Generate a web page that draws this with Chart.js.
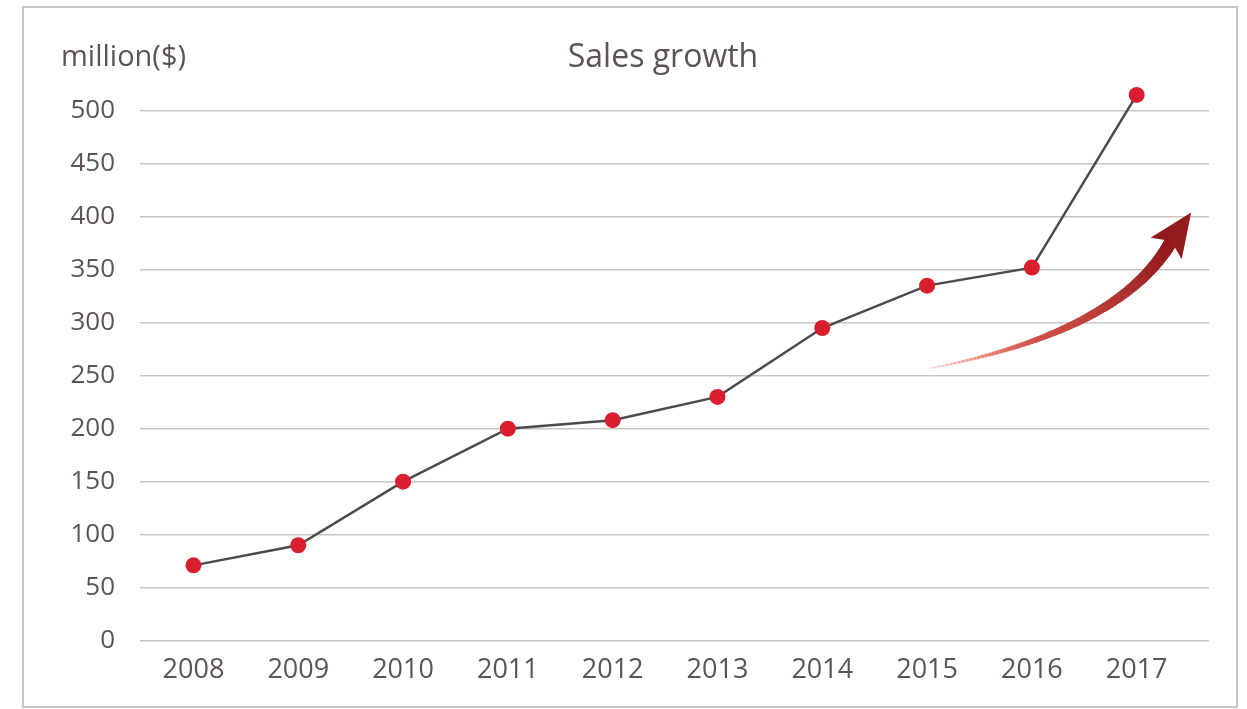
<!DOCTYPE html>
<html>
<head>
<meta charset="utf-8">
<title>Sales growth</title>
<script src="https://cdn.jsdelivr.net/npm/chart.js@4.4.1/dist/chart.umd.min.js"></script>
<style>
  body { margin: 0; background: #fff; }
  .frame {
    position: absolute; left: 22px; top: 6px; width: 1216px; height: 702px;
    border: 2px solid #cbc6c3; box-sizing: border-box;
  }
  .wrap { position: absolute; left: 0; top: 0; width: 1247px; height: 709px; }
</style>
</head>
<body>
<div class="frame"></div>
<div class="wrap"><canvas id="salesChart"></canvas></div>
<script>
// gegevens
const years = ['2008', '2009', '2010', '2011', '2012', '2013', '2014', '2015', '2016', '2017'];
const sales = [71, 90, 150, 200, 208, 230, 295, 335, 352, 515];
const yTicks = [0, 50, 100, 150, 200, 250, 300, 350, 400, 450, 500];

const textColor = '#5c5454';
const fontName = '"Open Sans", "DejaVu Sans", sans-serif';

// titel en eenheid boven de grafiek
const headerPlugin = {
    id: 'header',
    afterDraw(chart) {
        const c = chart.ctx;
        const area = chart.chartArea;
        const top = chart.scales.y.getPixelForValue(500);
        c.save();
        c.fillStyle = textColor;
        c.textBaseline = 'middle';
        c.font = '32px ' + fontName;
        c.textAlign = 'center';
        c.fillText('Sales growth', area.left + 523, top - 53);
        c.font = '29px ' + fontName;
        c.textAlign = 'left';
        c.fillText('million($)', area.left - 79, top - 53);
        c.restore();
    }
};

// gebogen pijl, in datacoordinaten
const arrowPlugin = {
    id: 'growthArrow',
    afterDatasetsDraw(chart) {
        const xs = chart.scales.x, ys = chart.scales.y;
        const p = (x, y) => ({ x: xs.getPixelForValue(x), y: ys.getPixelForValue(y) });
        const a = p(7.03, 257);   // staart
        const b = p(8.85, 292);   // controlepunt
        const e = p(9.33, 377);   // basis van de punt
        const tip = p(9.52, 404);
        const c = chart.ctx;
        c.save();
        const steps = 90;
        let prev = a;
        for (let i = 1; i <= steps; i++) {
            const t = i / steps;
            const u = 1 - t;
            const q = {
                x: u * u * a.x + 2 * u * t * b.x + t * t * e.x,
                y: u * u * a.y + 2 * u * t * b.y + t * t * e.y
            };
            const r = Math.round(238 - 92 * t);
            const g = Math.round(110 - 86 * t);
            const bl = Math.round(90 - 62 * t);
            c.strokeStyle = `rgba(${r},${g},${bl},${Math.min(1, 0.2 + t * 2)})`;
            c.lineWidth = 1 + 12 * Math.pow(t, 0.85);
            c.lineCap = 'round';
            c.beginPath();
            c.moveTo(prev.x, prev.y);
            c.lineTo(q.x, q.y);
            c.stroke();
            prev = q;
        }
        // pijlpunt
        const ang = Math.atan2(tip.y - e.y, tip.x - e.x);
        const half = 19;
        const back = 9;
        c.fillStyle = '#931a1d';
        c.beginPath();
        c.moveTo(tip.x, tip.y);
        c.lineTo(e.x + Math.cos(ang + Math.PI / 2) * half - Math.cos(ang) * back,
                 e.y + Math.sin(ang + Math.PI / 2) * half - Math.sin(ang) * back);
        c.lineTo(e.x, e.y);
        c.lineTo(e.x + Math.cos(ang - Math.PI / 2) * half - Math.cos(ang) * back,
                 e.y + Math.sin(ang - Math.PI / 2) * half - Math.sin(ang) * back);
        c.closePath();
        c.fill();
        c.restore();
    }
};

const ctx = document.getElementById('salesChart').getContext('2d');
const salesChart = new Chart(ctx, {
    type: 'line',
    data: {
        datasets: [{
            label: 'Sales',
            data: sales.map((v, i) => ({ x: i, y: v })),
            borderColor: '#4d4a4a',
            borderWidth: 2.5,
            pointBackgroundColor: '#d91f2e',
            pointBorderWidth: 0,
            pointRadius: 8,
            fill: false,
            tension: 0,
            clip: false
        }]
    },
    options: {
        responsive: true,
        maintainAspectRatio: false,
        animation: false,
        layout: { padding: { left: 60, right: 38, top: 79, bottom: 16 } },
        plugins: {
            legend: { display: false },
            tooltip: { enabled: false }
        },
        scales: {
            x: {
                type: 'linear',
                min: -0.51,
                max: 9.69,
                grid: { display: false },
                border: { display: false },
                afterBuildTicks: s => { s.ticks = years.map((_, i) => ({ value: i })); },
                ticks: {
                    callback: v => years[v],
                    color: textColor,
                    font: { family: fontName, size: 27 },
                    padding: 6,
                    maxRotation: 0,
                    autoSkip: false
                }
            },
            y: {
                min: 0,
                max: 530,
                afterFit: s => { s.width = 80; },
                afterBuildTicks: s => { s.ticks = yTicks.map(v => ({ value: v })); },
                grid: { color: '#cbc4c1', lineWidth: 1.5, drawTicks: false },
                border: { display: false },
                ticks: {
                    color: textColor,
                    font: { family: fontName, size: 26 },
                    padding: 25
                }
            }
        }
    },
    plugins: [headerPlugin, arrowPlugin]
});
</script>
</body>
</html>
